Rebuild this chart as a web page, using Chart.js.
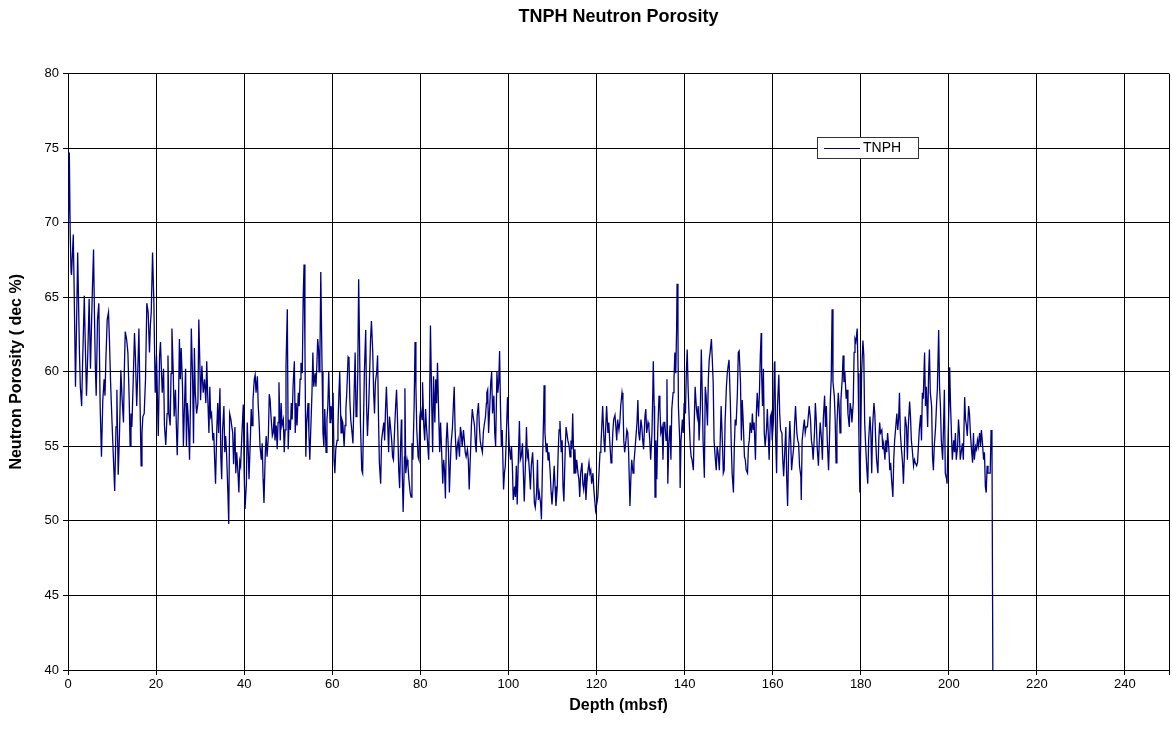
<!DOCTYPE html>
<html>
<head>
<meta charset="utf-8">
<script src="https://cdn.jsdelivr.net/npm/chart.js@4.4.0/dist/chart.umd.min.js"></script>
<style>
  html, body { margin: 0; padding: 0; background: #fff; }
  canvas { display: block; }
</style>
</head>
<body>
<canvas id="chart" width="1172" height="738" style="width:1172px;height:738px"></canvas>
<script>
/* global Chart */

// TNPH log as [depth (mbsf), porosity] pairs, one list per ~19 m stretch
const tnph0 = [[0.1,70],[0.3,74.7],[0.5,69.3],[0.7,66.7],[0.8,66.5],[1.2,69.2],[1.4,65.5],[1.7,59],[2.0,64.2],[2.2,68],[2.6,61.3],[2.8,59],[3.1,57.7],[3.3,60.4],[3.7,65.1],[3.9,62.2],[4.2,58.4],[4.5,61.3],[4.8,64.9],[5.1,60.2],[5.5,65.1],[5.8,68.2],[6.0,64],[6.2,60.4],[6.4,58.4],[6.7,63.5],[7.0,64.6],[7.3,57.7],[7.6,54.3],[7.9,58.1],[8.2,59.5],[8.4,58.4],[8.6,60.8],[8.9,63.5],[9.2,64],[9.4,62.2],[9.7,59],[10.0,56.6],[10.3,54.3],[10.6,52],[10.9,56.3],[11.1,58.8],[11.4,53.1],[11.7,55.9],[12.0,60.1],[12.3,58.1],[12.6,56.6],[12.8,60.2],[13.0,62.7],[13.3,62.2],[13.6,61.3],[13.9,58.1],[14.1,55],[14.3,57.2],[14.5,56.3],[14.8,59.3],[15.1,62.6],[15.3,61.1],[15.6,57.7],[15.8,59.5],[16.1,62.9],[16.4,57.2],[16.6,53.7],[16.8,55.9],[17.0,57],[17.3,57.2],[17.6,59.5],[17.9,64.6],[18.2,64],[18.5,61.3],[18.7,63.1]];
const tnph19 = [[18.9,64],[19.2,68],[19.5,64.6],[19.8,58.6],[20.1,61.1],[20.5,55.7],[20.8,61.1],[21.0,62],[21.2,60.2],[21.4,58.6],[21.7,60.2],[21.9,56.4],[22.2,55.1],[22.5,57.2],[22.7,61.1],[22.9,57.2],[23.2,56.4],[23.4,59.9],[23.6,62.9],[23.9,59.9],[24.1,57],[24.4,58.8],[24.6,56.4],[24.8,54.4],[25.1,58.1],[25.3,62.2],[25.5,59.5],[25.7,61.6],[26.0,59],[26.2,55],[26.4,57.2],[26.7,60.2],[26.9,55],[27.1,57.9],[27.3,57],[27.6,54.1],[27.8,57.7],[28.0,62.9],[28.3,59.5],[28.5,55.2],[28.7,61.6],[28.9,58.6],[29.2,57.2],[29.5,57.9],[29.7,63.5],[29.9,61.1],[30.1,58.1],[30.4,60.4],[30.7,58.6],[31.0,59.5],[31.3,57.9],[31.5,60.7],[31.7,58.6],[32.0,55.9],[32.2,59],[32.4,57],[32.6,57.2],[32.9,55.4],[33.1,55.9],[33.3,54.1],[33.5,52.5],[33.8,56.3],[34.0,57.9],[34.2,55.9],[34.5,58.9],[34.7,54.3],[34.9,52.8],[35.1,56.1],[35.4,57.7],[35.6,54.6],[35.8,55.7],[36.0,54.6],[36.3,51.9],[36.5,49.8],[36.7,57.2],[37.0,56.8],[37.2,56.3],[37.4,55.9],[37.6,53.8],[37.9,56.3]];
const tnph38 = [[38.1,53.2],[38.3,54.6],[38.6,53.2],[38.8,51.9],[39.0,54],[39.2,53.7],[39.5,55.9],[39.8,57.8],[40.0,53.2],[40.2,50.8],[40.5,52.5],[40.7,56.6],[40.9,55],[41.1,52.8],[41.4,55.4],[41.6,57.5],[41.8,56.4],[42.0,58.1],[42.3,59.5],[42.5,59.8],[42.7,58.6],[43.0,59.7],[43.2,57.7],[43.4,56.6],[43.6,55],[43.9,54.1],[44.1,55.2],[44.3,52.8],[44.5,51.2],[44.8,54.6],[45.0,55.7],[45.2,54.3],[45.5,55.7],[45.7,58.5],[45.9,58.1],[46.1,57],[46.4,55.7],[46.6,55.9],[46.8,57],[47.0,55.4],[47.3,56.4],[47.5,54.8],[47.7,56.6],[47.9,59.3],[48.2,55.4],[48.4,57.9],[48.6,56.4],[48.9,56.8],[49.1,54.6],[49.3,56.1],[49.5,60.4],[49.8,64.2],[50.0,54.8],[50.2,56.8],[50.5,56.1],[50.7,57.9],[50.9,56.8],[51.1,59],[51.4,60.7],[51.6,55.9],[51.8,57.9],[52.0,56.4],[52.3,58.6],[52.5,57.7],[52.7,59.5],[52.9,60.6],[53.2,59.9],[53.4,64.9],[53.6,67.2],[53.8,61.7],[54.0,54.3],[54.2,56.6],[54.5,57.9],[54.7,55.9],[54.9,54.1],[55.1,55.9],[55.4,58.6],[55.6,61.3],[55.8,59],[56.1,59.9],[56.3,59],[56.5,60.4],[56.7,62.2],[56.9,61.5]];
const tnph57 = [[57.0,60],[57.2,60.8],[57.4,66.7],[57.7,60],[57.9,55.9],[58.1,55],[58.3,57.5],[58.6,54.6],[58.8,56.8],[59.0,57.7],[59.2,60],[59.5,56.6],[59.7,57.7],[59.9,56.8],[60.2,58.6],[60.4,54.1],[60.6,53.2],[60.8,54.8],[61.1,55.4],[61.3,56.4],[61.5,58.4],[61.7,60],[62.0,55.9],[62.2,56.8],[62.4,56.6],[62.7,55],[62.9,56.4],[63.1,57.5],[63.3,58.6],[63.6,61],[63.8,60.9],[64.0,58.1],[64.2,56.8],[64.5,55.9],[64.7,55.2],[64.9,57.7],[65.2,61.3],[65.4,57],[65.6,57.2],[65.8,60],[66.0,66.2],[66.2,61.9],[66.4,56.6],[66.7,53.4],[66.9,53.2],[67.1,56.6],[67.3,60],[67.6,62.8],[67.8,57.7],[68.0,55.7],[68.3,57.9],[68.5,60],[68.7,62.2],[68.9,63.4],[69.2,61.3],[69.4,58.6],[69.6,57.2],[69.8,59.3],[70.1,60],[70.3,61.1],[70.5,57],[70.7,53.9],[71.0,52.5],[71.2,55.4],[71.4,55.9],[71.7,56.6],[71.9,55.4],[72.1,57.5],[72.3,59],[72.6,56.4],[72.8,54.6],[73.0,57],[73.2,56.4],[73.5,55.4],[73.7,54.3],[73.9,54.1],[74.2,56.4],[74.4,57.7],[74.6,58.8],[74.8,57],[75.1,53.4],[75.3,52.2],[75.5,54.8],[75.7,56.8]];
const tnph76 = [[75.8,55.9],[75.9,53.2],[76.1,50.6],[76.4,54.3],[76.5,58.9],[76.7,53.2],[77.0,54.1],[77.2,53.7],[77.4,52.8],[77.7,51.9],[77.9,51.6],[78.1,55.2],[78.3,54.1],[78.6,57.7],[78.8,62],[79.0,59],[79.2,56.1],[79.5,54.3],[79.7,54.1],[79.9,57],[80.1,57.5],[80.4,56.8],[80.5,59.3],[80.8,56.3],[81.0,55.4],[81.2,57.5],[81.4,56.3],[81.7,55],[81.9,54.1],[82.1,57.7],[82.3,63.1],[82.6,57.7],[82.8,54.6],[83.0,59.7],[83.3,56.6],[83.5,59.5],[83.7,57.9],[83.9,60.6],[84.2,56.8],[84.4,54.6],[84.6,56.6],[84.8,55],[85.1,52.5],[85.3,54.1],[85.5,53.4],[85.7,51.5],[85.9,55.4],[86.1,56.6],[86.4,54.6],[86.6,51.9],[86.8,53.7],[87.0,55.2],[87.3,56.3],[87.5,57.7],[87.7,59],[87.9,56.1],[88.2,54.1],[88.4,55],[88.6,55.4],[88.9,54.3],[89.1,56.3],[89.3,55.9],[89.5,55],[89.8,56.1],[90.0,55.4],[90.2,54.6],[90.4,54.3],[90.7,54.8],[90.9,54.1],[91.1,52.1],[91.4,54.6],[91.6,56.4],[91.8,57.5],[92.0,57],[92.3,56.4],[92.5,55.2],[92.7,54.6],[92.9,57],[93.2,57.9],[93.4,56.4],[93.6,55.4],[93.8,55],[94.1,54.6],[94.3,55.9],[94.5,56.4],[94.8,57],[95.0,57.9]];
const tnph95 = [[95.1,58.6],[95.3,58.8],[95.5,55.9],[95.8,57.9],[96.0,59.3],[96.2,60],[96.4,57.2],[96.7,58.4],[96.9,55.9],[97.1,55],[97.4,60],[97.6,58.6],[97.8,59.3],[98.0,61.4],[98.2,57.7],[98.4,55],[98.6,56.1],[98.9,52.1],[99.1,53.2],[99.3,53.7],[99.5,55.4],[99.8,58.3],[100.0,56.6],[100.2,55],[100.5,54.1],[100.7,55],[100.9,53.7],[101.1,51.4],[101.4,52.3],[101.6,51.6],[101.8,53.7],[102.0,51.1],[102.3,54.6],[102.5,56.7],[102.7,54.1],[102.9,54.3],[103.2,55.2],[103.4,53.2],[103.6,51.3],[103.9,54.1],[104.1,56.3],[104.3,54.3],[104.5,54.6],[104.8,53.2],[105.0,52.1],[105.2,53.7],[105.5,54.6],[105.7,53.2],[105.9,51.2],[106.1,50.9],[106.4,51.9],[106.6,54.1],[106.8,51.4],[107.0,51.9],[107.3,51.2],[107.5,50.1],[107.7,53.2],[108.0,57.2],[108.1,59.1],[108.3,55.9],[108.6,54.6],[108.8,55.2],[109.0,54.1],[109.2,54.6],[109.5,53.2],[109.7,51.9],[109.9,51.1],[110.2,52.5],[110.4,53.7],[110.6,52.3],[110.8,51],[111.1,52.3],[111.3,54.6],[111.5,56.1],[111.7,56.7],[112.0,54.6],[112.2,55.4],[112.4,52.3],[112.6,51.3],[112.9,54.8],[113.1,56.3],[113.3,56.3],[113.5,55.4],[113.8,55],[114.0,54.3]];
const tnph114 = [[114.2,55.4],[114.4,54.8],[114.6,57.2],[114.9,53.2],[115.1,54.8],[115.3,53.2],[115.5,54.1],[115.8,53.2],[116.0,52.8],[116.2,51.6],[116.4,53.2],[116.7,53.9],[116.9,52.5],[117.1,52.1],[117.4,53.2],[117.6,51.4],[117.8,52.5],[118.0,53.2],[118.3,53.9],[118.5,53.2],[118.7,53.4],[118.9,52.5],[119.2,53.2],[119.4,52.1],[119.6,51.4],[119.8,50.7],[120.1,51.2],[120.3,51.6],[120.5,52.8],[120.8,54.6],[121.0,55],[121.2,56.3],[121.4,57.7],[121.7,55.4],[121.9,54.6],[122.1,56.3],[122.3,57.7],[122.6,55.9],[122.8,56.6],[123.0,55.4],[123.3,53.9],[123.5,54.3],[123.7,55.9],[123.9,56.8],[124.2,57.1],[124.4,56.3],[124.6,55.4],[124.8,56.8],[125.1,56.1],[125.3,56.6],[125.5,57.7],[125.8,58.6],[126.0,58.1],[126.2,55.4],[126.4,54.6],[126.7,55.4],[126.9,56.1],[127.1,55.9],[127.3,54.6],[127.6,51],[127.8,52.8],[128.0,54.1],[128.3,53.2],[128.5,53.9],[128.7,54.6],[128.9,55.4],[129.2,56.6],[129.4,58.1],[129.6,55.9],[129.8,55.4],[130.1,56.8],[130.3,56.3],[130.5,55.4],[130.7,54.8],[131.0,57],[131.2,57.5],[131.4,55.9],[131.7,56.6],[131.9,56.3],[132.1,55.4],[132.3,54.1],[132.6,55.9],[132.8,58.8],[132.9,60.7],[133.1,57.7],[133.2,55]];
const tnph133 = [[133.3,51.6],[133.5,55.4],[133.7,52.8],[133.9,55.9],[134.2,58.4],[134.4,57.7],[134.6,55.9],[134.9,56.3],[135.1,54.1],[135.3,56.6],[135.5,56.6],[135.8,55.4],[136.0,59.5],[136.2,52.5],[136.4,55],[136.7,56.4],[136.9,54.1],[137.1,57.5],[137.4,58.6],[137.6,59.5],[137.8,61.3],[138.0,59.9],[138.2,62.9],[138.3,65.9],[138.5,63],[138.6,57.7],[138.9,55.4],[139.0,52.2],[139.2,55.4],[139.5,56.8],[139.7,55.9],[139.9,57.9],[140.2,57.2],[140.4,59.9],[140.6,61.5],[140.8,59],[141.1,56.4],[141.3,55],[141.5,54.3],[141.7,54.1],[142.0,53.4],[142.2,56.6],[142.4,59],[142.7,57.5],[142.9,57],[143.1,57.7],[143.3,55.4],[143.6,57.7],[143.8,61.5],[144.0,58.8],[144.2,55.4],[144.5,52.9],[144.7,59],[144.9,58.4],[145.2,56.4],[145.4,59.5],[145.6,60.8],[145.8,61.3],[146.1,62.2],[146.3,60.8],[146.5,59.3],[146.7,55.4],[147.0,54.1],[147.2,53.4],[147.4,55],[147.6,54.6],[147.9,53.4],[148.1,55.4],[148.3,57.7],[148.6,55.2],[148.8,53.2],[149.0,53.4],[149.2,56.6],[149.5,59],[149.7,59.9],[149.9,60.4],[150.1,60.8],[150.4,57.9],[150.6,55.2],[150.8,53.2],[151.1,51.9],[151.3,55],[151.5,56.8],[151.7,56.4],[152.0,58.6],[152.2,61.3]];
const tnph152 = [[152.4,61.4],[152.7,59.3],[152.9,55.4],[153.1,58.1],[153.3,56.8],[153.6,54.3],[153.8,54.1],[154.0,53.4],[154.3,53.2],[154.5,55],[154.7,55.4],[154.9,56.6],[155.2,55.9],[155.4,57.2],[155.6,56.1],[155.8,56.6],[156.1,54.1],[156.3,57.2],[156.5,58.6],[156.8,57],[157.0,58.6],[157.2,61.1],[157.4,62.6],[157.5,59.9],[157.7,57.7],[157.9,60.2],[158.1,55.9],[158.3,55],[158.6,56.1],[158.8,57.5],[159.0,55.9],[159.2,54.1],[159.5,57],[159.7,57.2],[159.9,55.4],[160.2,56.8],[160.4,60.6],[160.5,60.7],[160.7,55.4],[160.9,53.2],[161.1,57.7],[161.4,59.8],[161.6,57.2],[161.8,56.1],[162.1,55.9],[162.3,54.1],[162.5,53],[162.7,54.3],[163.0,56.3],[163.2,52.8],[163.4,51],[163.6,54.3],[163.9,56.7],[164.1,55.4],[164.3,53.4],[164.5,54.1],[164.8,55],[165.0,56.6],[165.2,57.7],[165.5,55.9],[165.7,55.4],[165.9,55.2],[166.1,53.7],[166.4,53],[166.5,51.4],[166.7,55.4],[167.0,56.3],[167.2,56.8],[167.4,55.9],[167.6,56.3],[167.9,56.3],[168.1,57],[168.3,57.7],[168.6,56.8],[168.8,55.4],[169.0,55],[169.2,54.1],[169.5,55.9],[169.7,57.9],[169.9,56.8],[170.1,55],[170.4,53.7],[170.6,55.4],[170.8,56.6],[171.1,55.4],[171.3,54.1]];
const tnph171 = [[171.5,56.8],[171.8,58.4],[172.0,56.3],[172.2,57.7],[172.4,55.4],[172.7,53.4],[172.9,55.4],[173.1,58.1],[173.3,59.5],[173.5,64.2],[173.7,59.3],[174.0,58.4],[174.2,56.8],[174.4,53.9],[174.6,56.4],[174.9,58.6],[175.1,57.7],[175.3,55.9],[175.5,58.1],[175.8,59.5],[176.0,61.1],[176.2,59.3],[176.4,60],[176.7,58.2],[176.9,58.8],[177.1,57.2],[177.4,56.3],[177.6,57.9],[177.8,57.5],[178.0,56.6],[178.3,57.9],[178.5,61.3],[178.7,62.2],[178.9,62],[179.2,62.9],[179.4,59.9],[179.6,55.4],[179.8,51.9],[180.0,55.4],[180.2,59.9],[180.5,62.1],[180.7,61.1],[180.9,56.6],[181.1,55.2],[181.4,53.4],[181.6,52.5],[181.8,55.4],[182.1,57],[182.3,55.9],[182.5,53.2],[182.7,56.3],[183.0,57.9],[183.2,57.2],[183.4,55.4],[183.6,54.1],[183.9,53.2],[184.1,55.4],[184.3,56.6],[184.5,55.9],[184.8,56.1],[185.0,54.8],[185.2,55.2],[185.5,54.1],[185.7,55.4],[185.9,54.6],[186.1,55.9],[186.4,54.8],[186.6,53.4],[186.8,53.9],[187.0,52.8],[187.3,51.6],[187.5,54.1],[187.7,55.4],[187.9,56.1],[188.2,57.2],[188.4,56.1],[188.6,56.8],[188.8,58.6],[189.0,55.9],[189.2,55],[189.5,53.9],[189.7,52.5],[189.9,54.3],[190.1,57],[190.4,56.3]];
const tnph190 = [[190.6,54.1],[190.8,56.3],[191.1,58],[191.3,57],[191.5,55.4],[191.7,54.8],[192.0,53.7],[192.2,54.1],[192.4,53.9],[192.7,53.7],[192.9,53.9],[193.1,55],[193.3,56.1],[193.6,57.1],[193.8,55.4],[194.0,58.6],[194.2,58.2],[194.5,61.3],[194.7,57.7],[194.9,59],[195.2,56.3],[195.4,59.7],[195.6,61.5],[195.8,58.6],[196.1,57.7],[196.3,54.3],[196.5,53.4],[196.7,55],[197.0,56.3],[197.2,57.7],[197.4,58.8],[197.7,62.8],[197.9,59],[198.1,57.7],[198.3,55.4],[198.6,54.1],[198.8,56.3],[199.0,58.8],[199.2,53.2],[199.5,52.8],[199.6,52.5],[199.9,56.3],[200.1,58.3],[200.2,60.3],[200.4,57.7],[200.6,55.9],[200.8,54.1],[201.1,55.4],[201.3,54.6],[201.5,55.9],[201.7,54.1],[202.0,55],[202.2,56.8],[202.4,55.9],[202.6,54.1],[202.9,54.8],[203.1,55.2],[203.3,54.1],[203.6,58.3],[203.8,56.8],[204.0,56.4],[204.2,55.7],[204.5,57.7],[204.7,57.2],[204.9,55.9],[205.1,55],[205.4,53.9],[205.6,55.9],[205.8,54.1],[206.1,55],[206.3,54.8],[206.5,55.4],[206.7,55],[207.0,55.9],[207.2,55],[207.4,56.1],[207.6,55.4],[207.9,54.1],[208.1,54.6],[208.3,52.3],[208.5,51.9],[208.7,53.7],[208.9,53.2],[209.2,53.2],[209.4,53.2],[209.6,56.1],[209.8,55.4],[210.0,40]];

const xTicks = [0, 20, 40, 60, 80, 100, 120, 140, 160, 180, 200, 220, 240, 250];
const seriesName = 'TNPH';

const FONT = '"Liberation Sans", Arial, Helvetica, sans-serif';
const LINE = '#000080';

const points = [].concat(tnph0, tnph19, tnph38, tnph57, tnph76, tnph95,
  tnph114, tnph133, tnph152, tnph171, tnph190).map(p => ({ x: p[0], y: p[1] }));

Chart.defaults.font.family = FONT;
Chart.defaults.font.size = 13;
Chart.defaults.color = '#000';

// Legend box sits inside the plot, Excel style
const legendBox = {
  id: 'legendBox',
  afterDraw(chart) {
    const c = chart.ctx;
    c.save();
    c.fillStyle = '#fff';
    c.fillRect(817, 137, 102, 22);
    c.strokeStyle = '#333';
    c.lineWidth = 1;
    c.strokeRect(817.5, 137.5, 101, 21);
    c.strokeStyle = LINE;
    c.beginPath();
    c.moveTo(824, 148.5);
    c.lineTo(860, 148.5);
    c.stroke();
    c.fillStyle = '#000';
    c.font = '14px ' + FONT;
    c.textBaseline = 'middle';
    c.fillText(seriesName, 863, 148.5);
    c.restore();
  }
};

new Chart(document.getElementById('chart'), {
  type: 'line',
  data: {
    datasets: [{
      label: seriesName,
      data: points,
      parsing: false,
      borderColor: LINE,
      borderWidth: 1.3,
      pointRadius: 0,
      tension: 0,
      fill: false
    }]
  },
  options: {
    responsive: false,
    animation: false,
    layout: { padding: { left: 0, right: 3, top: 0, bottom: 0 } },
    scales: {
      x: {
        type: 'linear',
        min: 0,
        max: 250,
        afterBuildTicks: (s) => { s.ticks = xTicks.map(v => ({ value: v })); },
        afterFit: (s) => { s.height = 68; },
        ticks: {
          autoSkip: false,
          maxRotation: 0,
          padding: 2,
          callback: (v) => (v === 250 ? '' : v)
        },
        grid: { color: '#000', lineWidth: 1, tickLength: 5 },
        border: { display: true, color: '#000' },
        title: {
          display: true,
          text: 'Depth (mbsf)',
          font: { size: 16, weight: 'bold' },
          padding: { top: 0, bottom: 23 }
        }
      },
      y: {
        min: 40,
        max: 80,
        afterFit: (s) => { s.width = 68; },
        ticks: { stepSize: 5, padding: 4 },
        grid: { color: '#000', lineWidth: 1, tickLength: 5 },
        border: { display: true, color: '#000' },
        title: {
          display: true,
          text: 'Neutron Porosity ( dec %)',
          font: { size: 16, weight: 'bold' },
          padding: { top: 7, bottom: 0 }
        }
      }
    },
    plugins: {
      legend: { display: false },
      tooltip: { enabled: false },
      title: {
        display: true,
        text: 'TNPH Neutron Porosity',
        fullSize: false,
        color: '#000',
        font: { size: 18, weight: 'bold' },
        padding: { top: 6, bottom: 46 }
      }
    }
  },
  plugins: [legendBox]
});
</script>
</body>
</html>
